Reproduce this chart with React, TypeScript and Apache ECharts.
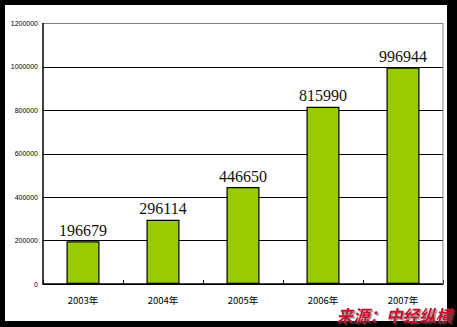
import React, { useEffect, useRef } from "react";
import * as echarts from "echarts";

const categories = ["2003年", "2004年", "2005年", "2006年", "2007年"];
const values = [196679, 296114, 446650, 815990, 996944];
const sourceText = "来源：中经纵横";

export default function App() {
  const ref = useRef<HTMLDivElement>(null);
  useEffect(() => {
    document.body.style.margin = "0";
    const chart = echarts.init(ref.current!, undefined, { renderer: "svg" });
    chart.setOption({
      animation: false,
      backgroundColor: "#000",
      grid: { left: 43, top: 23.5, right: 14, bottom: 43, show: false },
      graphic: [
        { type: "rect", z: -10, shape: { x: 5, y: 5, width: 442, height: 316 }, style: { fill: "#fff" }, silent: true },
        { type: "line", z: 1, shape: { x1: 443, y1: 23.5, x2: 443, y2: 284 }, style: { stroke: "#808080", lineWidth: 1 } },
        {
          type: "text",
          right: 5,
          top: 307,
          z: 100,
          style: {
            text: sourceText,
            font: "italic bold 16.5px 'Noto Sans CJK SC'",
            lineHeight: 16,
            fill: "#C8102E",
            textShadowColor: "rgba(90,90,90,0.7)",
            textShadowOffsetX: 1.5,
            textShadowOffsetY: 1.5,
            textShadowBlur: 1,
          },
        },
      ],
      xAxis: {
        type: "category",
        data: categories,
        axisLine: { lineStyle: { color: "#000", width: 1.5 } },
        axisTick: { show: true, inside: true, length: 4, lineStyle: { color: "#000" } },
        axisLabel: {
          color: "#000",
          fontSize: 9.5,
          lineHeight: 10,
          fontFamily: "'Noto Sans CJK SC', sans-serif",
          margin: 11,
        },
      },
      yAxis: {
        type: "value",
        min: 0,
        max: 1200000,
        interval: 200000,
        axisLine: { show: true, lineStyle: { color: "#000", width: 1.5 } },
        axisTick: { show: false },
        axisLabel: {
          color: "#000",
          fontSize: 7,
          fontFamily: "Arial, 'Liberation Sans', sans-serif",
          margin: 5,
          formatter: (v: number) => String(v),
        },
        splitLine: {
          lineStyle: { color: ["#000", "#000", "#000", "#000", "#000", "#000", "#808080"], width: 1.2 },
        },
      },
      series: [
        {
          type: "bar",
          data: values,
          barWidth: 33,
          itemStyle: { color: "#99CC00", borderColor: "#000", borderWidth: 1.2 },
          label: {
            show: true,
            position: "top",
            distance: 3,
            color: "#111",
            fontSize: 16,
            fontFamily: "'Liberation Serif', 'Times New Roman', serif",
          },
        },
      ],
    });
    return () => chart.dispose();
  }, []);
  return <div ref={ref} style={{ width: 457, height: 327 }} />;
}
